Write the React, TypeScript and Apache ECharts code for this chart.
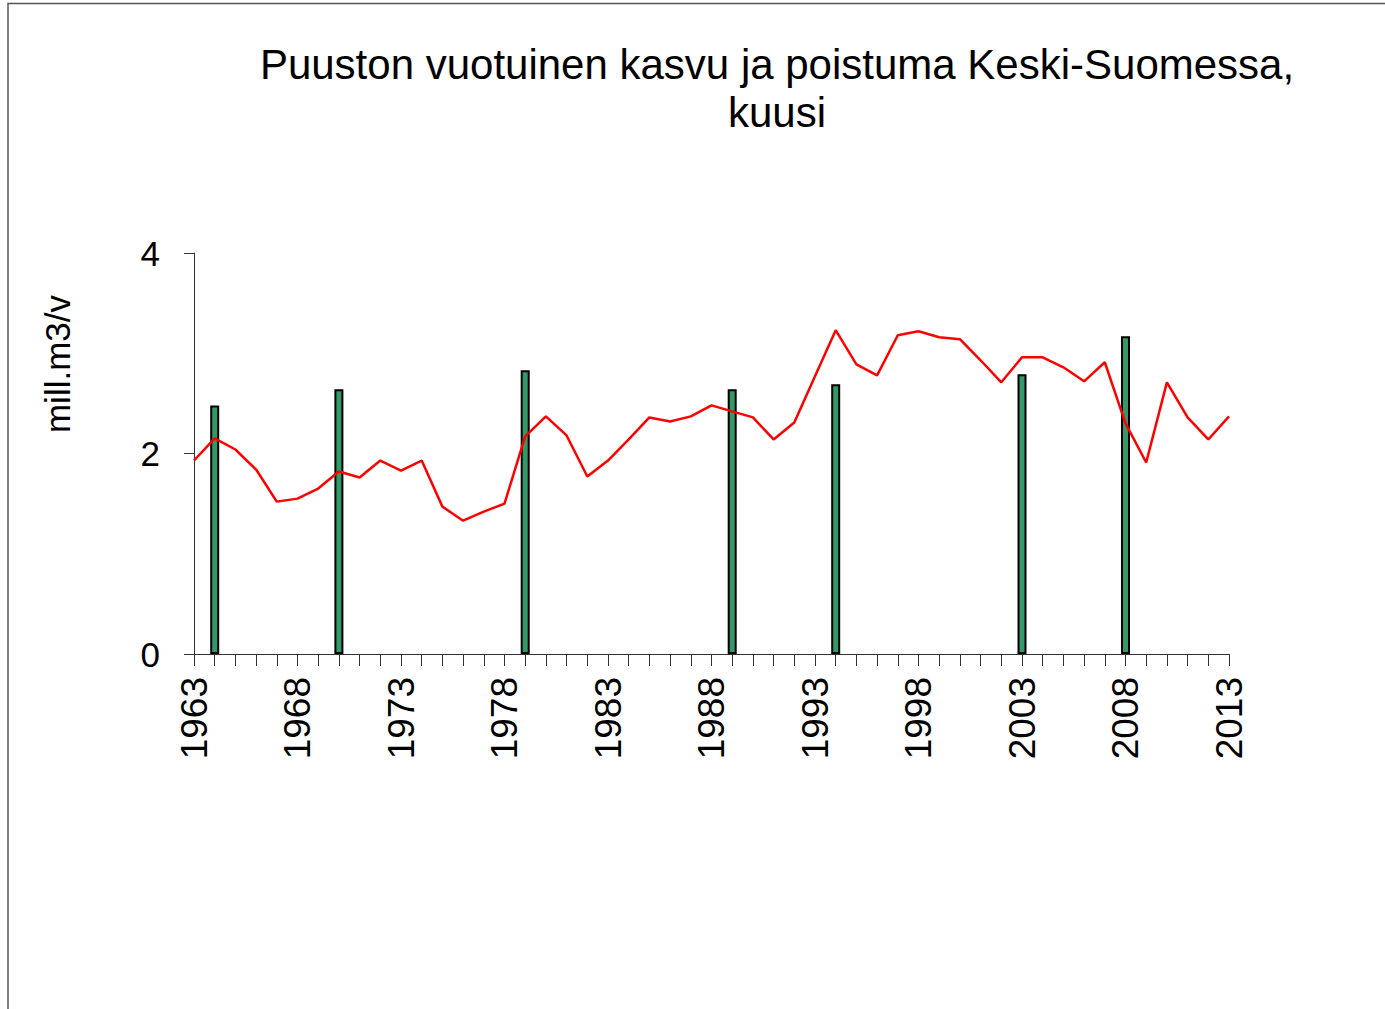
import React, { useEffect, useRef } from "react";
import * as echarts from "echarts";

const years = [
  "1963", "1964", "1965", "1966", "1967", "1968", "1969", "1970", "1971", "1972",
  "1973", "1974", "1975", "1976", "1977", "1978", "1979", "1980", "1981", "1982",
  "1983", "1984", "1985", "1986", "1987", "1988", "1989", "1990", "1991", "1992",
  "1993", "1994", "1995", "1996", "1997", "1998", "1999", "2000", "2001", "2002",
  "2003", "2004", "2005", "2006", "2007", "2008", "2009", "2010", "2011", "2012",
  "2013",
];

const lineValues = [
  1.93, 2.15, 2.04, 1.84, 1.52, 1.55, 1.65, 1.82, 1.76, 1.93,
  1.83, 1.93, 1.47, 1.33, 1.42, 1.5, 2.17, 2.37, 2.18, 1.77,
  1.93, 2.14, 2.36, 2.32, 2.37, 2.48, 2.42, 2.36, 2.14, 2.31,
  2.77, 3.23, 2.89, 2.78, 3.18, 3.22, 3.16, 3.14, 2.93, 2.71,
  2.96, 2.96, 2.86, 2.72, 2.91, 2.3, 1.91, 2.71, 2.36, 2.14,
  2.37,
];

const barYears = ["1964", "1970", "1979", "1989", "1994", "2003", "2008"];
const barValues = [2.48, 2.64, 2.83, 2.64, 2.69, 2.79, 3.17];

const yTicks = { min: 0, max: 4, interval: 2 };

const titleText = "Puuston vuotuinen kasvu ja poistuma Keski-Suomessa,\nkuusi";
const yName = "mill.m3/v";

const FONT = "'Liberation Sans', Arial, sans-serif";

export default function App() {
  const ref = useRef<HTMLDivElement>(null);

  useEffect(() => {
    if (!ref.current) return;
    const chart = echarts.init(ref.current, null, { renderer: "svg" });

    const barData = years.map((y) => {
      const i = barYears.indexOf(y);
      return i >= 0 ? barValues[i] : null;
    });

    chart.setOption({
      animation: false,
      backgroundColor: "#ffffff",
      title: {
        text: titleText,
        left: 772,
        top: 35,
        textAlign: "center",
        textStyle: {
          fontFamily: FONT,
          fontSize: 42,
          fontWeight: "normal",
          color: "#000",
          lineHeight: 48,
        },
      },
      graphic: [
        {
          type: "rect",
          shape: { x: 8, y: 3.5, width: 1400, height: 1020 },
          style: { fill: "none", stroke: "#555", lineWidth: 1.5 },
          silent: true,
        },
        {
          type: "text",
          x: 57,
          y: 364,
          rotation: Math.PI / 2,
          style: {
            text: yName,
            fontFamily: FONT,
            fontSize: 35,
            fill: "#000",
            align: "center",
            verticalAlign: "middle",
          },
          silent: true,
        },
      ],
      grid: { left: 194, right: 156, top: 253, bottom: 355, containLabel: false },
      xAxis: {
        type: "category",
        data: years,
        boundaryGap: false,
        axisLine: { lineStyle: { color: "#333", width: 1 } },
        axisTick: { interval: 0, length: 12, lineStyle: { color: "#333" } },
        axisLabel: {
          interval: 4,
          rotate: 90,
          margin: 23,
          fontSize: 37,
          fontFamily: FONT,
          color: "#000",
        },
        splitLine: { show: false },
      },
      yAxis: {
        type: "value",
        min: yTicks.min,
        max: yTicks.max,
        interval: yTicks.interval,
        axisLine: { show: true, lineStyle: { color: "#333", width: 1 } },
        axisTick: { show: true, length: 10, lineStyle: { color: "#333" } },
        axisLabel: { margin: 34, fontSize: 35, fontFamily: FONT, color: "#000" },
        splitLine: { show: false },
      },
      series: [
        {
          name: "poistuma",
          type: "bar",
          data: barData,
          barWidth: 9,
          itemStyle: { color: "#339966", borderColor: "#000", borderWidth: 2 },
          z: 2,
        },
        {
          name: "kasvu",
          type: "line",
          data: lineValues,
          showSymbol: false,
          symbol: "none",
          lineStyle: { color: "#ff0000", width: 2.5 },
          itemStyle: { color: "#ff0000" },
          z: 3,
        },
      ],
    });

    return () => chart.dispose();
  }, []);

  return (
    <div
      ref={ref}
      style={{ position: "fixed", left: 0, top: 0, width: 1385, height: 1009 }}
    />
  );
}
